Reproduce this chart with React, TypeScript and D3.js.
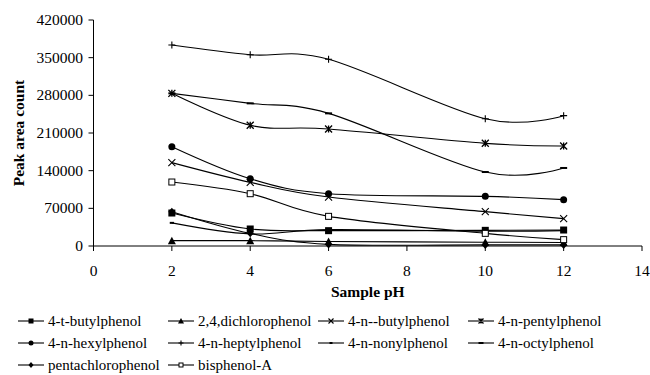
import React from "react";
import * as d3 from "d3";

const phValues = [2, 4, 6, 10, 12];
const xTicks = [0, 2, 4, 6, 8, 10, 12, 14];
const yTicks = [0, 70000, 140000, 210000, 280000, 350000, 420000];

const tButylphenol = [61300, 31600, 28500, 29100, 29700];
const dichlorophenol = [9900, 9900, 8500, 7000, 6500];
const nButylphenol = [154900, 118300, 91000, 63800, 50800];
const pentylphenol = [283700, 224300, 217400, 190800, 185800];
const hexylphenol = [184600, 125100, 97200, 92300, 86100];
const heptylphenol = [373500, 355500, 347000, 236600, 242200];
const nonylphenol = [43000, 22500, 30500, 27500, 28500];
const octylphenol = [283700, 265100, 246500, 137500, 145000];
const pentachlorophenol = [63800, 23500, 3000, 2000, 2000];
const bisphenolA = [118900, 97200, 55100, 23500, 11800];

const seriesNames = [
  "4-t-butylphenol",
  "2,4,dichlorophenol",
  "4-n--butylphenol",
  "4-n-pentylphenol",
  "4-n-hexylphenol",
  "4-n-heptylphenol",
  "4-n-nonylphenol",
  "4-n-octylphenol",
  "pentachlorophenol",
  "bisphenol-A",
];
const seriesValues = [
  tButylphenol,
  dichlorophenol,
  nButylphenol,
  pentylphenol,
  hexylphenol,
  heptylphenol,
  nonylphenol,
  octylphenol,
  pentachlorophenol,
  bisphenolA,
];
const seriesMarkers = [
  "square",
  "triangle",
  "x",
  "star",
  "circle",
  "plus",
  "shortdash",
  "longdash",
  "diamond",
  "opensquare",
];

const FONT = "Liberation Serif";

function Marker({ type, x, y, s }: { type: string; x: number; y: number; s: number }) {
  const h = s / 2;
  const sw = 1.1;
  switch (type) {
    case "square":
      return <rect x={x - h} y={y - h} width={s} height={s} fill="#000" />;
    case "opensquare":
      return <rect x={x - h + 0.5} y={y - h + 0.5} width={s - 1} height={s - 1} fill="#fff" stroke="#000" strokeWidth={1} />;
    case "triangle":
      return <path d={`M${x},${y - h - 0.5}L${x + h + 0.5},${y + h}L${x - h - 0.5},${y + h}Z`} fill="#000" />;
    case "circle":
      return <circle cx={x} cy={y} r={h} fill="#000" />;
    case "diamond":
      return <path d={`M${x},${y - h - 0.5}L${x + h},${y}L${x},${y + h + 0.5}L${x - h},${y}Z`} fill="#000" />;
    case "x":
      return (
        <path d={`M${x - h},${y - h}L${x + h},${y + h}M${x - h},${y + h}L${x + h},${y - h}`} stroke="#000" strokeWidth={sw} />
      );
    case "star":
      return (
        <path
          d={`M${x - h},${y - h}L${x + h},${y + h}M${x - h},${y + h}L${x + h},${y - h}M${x},${y - h}L${x},${y + h}`}
          stroke="#000"
          strokeWidth={sw * 1.2}
        />
      );
    case "plus":
      return <path d={`M${x - h},${y}L${x + h},${y}M${x},${y - h}L${x},${y + h}`} stroke="#000" strokeWidth={sw} />;
    case "shortdash":
      return <rect x={x - s * 0.3} y={y - 1} width={s * 0.6} height={2} fill="#000" />;
    case "longdash":
      return <rect x={x - h} y={y - 1} width={s} height={2} fill="#000" />;
    default:
      return null;
  }
}

export default function App() {
  const width = 650;
  const height = 375;
  const x = d3.scaleLinear().domain([0, 14]).range([93.5, 642]);
  const y = d3.scaleLinear().domain([0, 420000]).range([246, 20]);
  const line = d3
    .line<number>()
    .x((_, i) => x(phValues[i]))
    .y((d) => y(d))
    .curve(d3.curveCardinal.tension(0));

  const legendCols = [18, 168, 318, 468];
  const legendRows = [321, 343, 365];
  const ts = { fontFamily: FONT, fontSize: "15.5px" } as React.CSSProperties;
  const ls = { fontFamily: FONT, fontSize: "15px" } as React.CSSProperties;

  return (
    <svg
      width={width}
      height={height}
      style={{ position: "absolute", left: 0, top: 0, background: "#fff" }}
    >
      <rect width={width} height={height} fill="#fff" />
      {/* axes */}
      <line x1={x(0)} x2={x(14)} y1={y(0)} y2={y(0)} stroke="#000" strokeWidth={1} />
      <line x1={x(0)} x2={x(0)} y1={y(0)} y2={y(420000)} stroke="#000" strokeWidth={1} />
      {yTicks.map((t) => (
        <g key={"y" + t}>
          <line x1={x(0) - 5} x2={x(0)} y1={y(t)} y2={y(t)} stroke="#000" />
          <text x={83} y={y(t) + 5} textAnchor="end" style={ts}>
            {t}
          </text>
        </g>
      ))}
      {xTicks.map((t) => (
        <g key={"x" + t}>
          <line x1={x(t)} x2={x(t)} y1={y(0)} y2={y(0) + 5} stroke="#000" />
          <text x={x(t)} y={276} textAnchor="middle" style={ts}>
            {t}
          </text>
        </g>
      ))}
      <text x={(x(0) + x(14)) / 2} y={297} textAnchor="middle" style={{ ...ts, fontWeight: "bold" }}>
        Sample pH
      </text>
      <text
        transform={`translate(24,${(y(0) + y(420000)) / 2}) rotate(-90)`}
        textAnchor="middle"
        style={{ ...ts, fontWeight: "bold" }}
      >
        Peak area count
      </text>

      {/* series */}
      {seriesValues.map((vals, si) => (
        <g key={"s" + si}>
          <path d={line(vals) || ""} fill="none" stroke="#000" strokeWidth={1.1} />
          {vals.map((v, i) => (
            <Marker key={i} type={seriesMarkers[si]} x={x(phValues[i])} y={y(v)} s={7} />
          ))}
        </g>
      ))}

      {/* legend */}
      {seriesNames.map((name, i) => {
        const col = i % 4;
        const row = Math.floor(i / 4);
        const lx = legendCols[col];
        const ly = legendRows[row];
        return (
          <g key={"l" + i}>
            <line x1={lx} x2={lx + 26} y1={ly} y2={ly} stroke="#000" strokeWidth={1.1} />
            <Marker type={seriesMarkers[i]} x={lx + 13} y={ly} s={5} />
            <text x={lx + 30} y={ly + 5} style={ls}>
              {name}
            </text>
          </g>
        );
      })}
    </svg>
  );
}
